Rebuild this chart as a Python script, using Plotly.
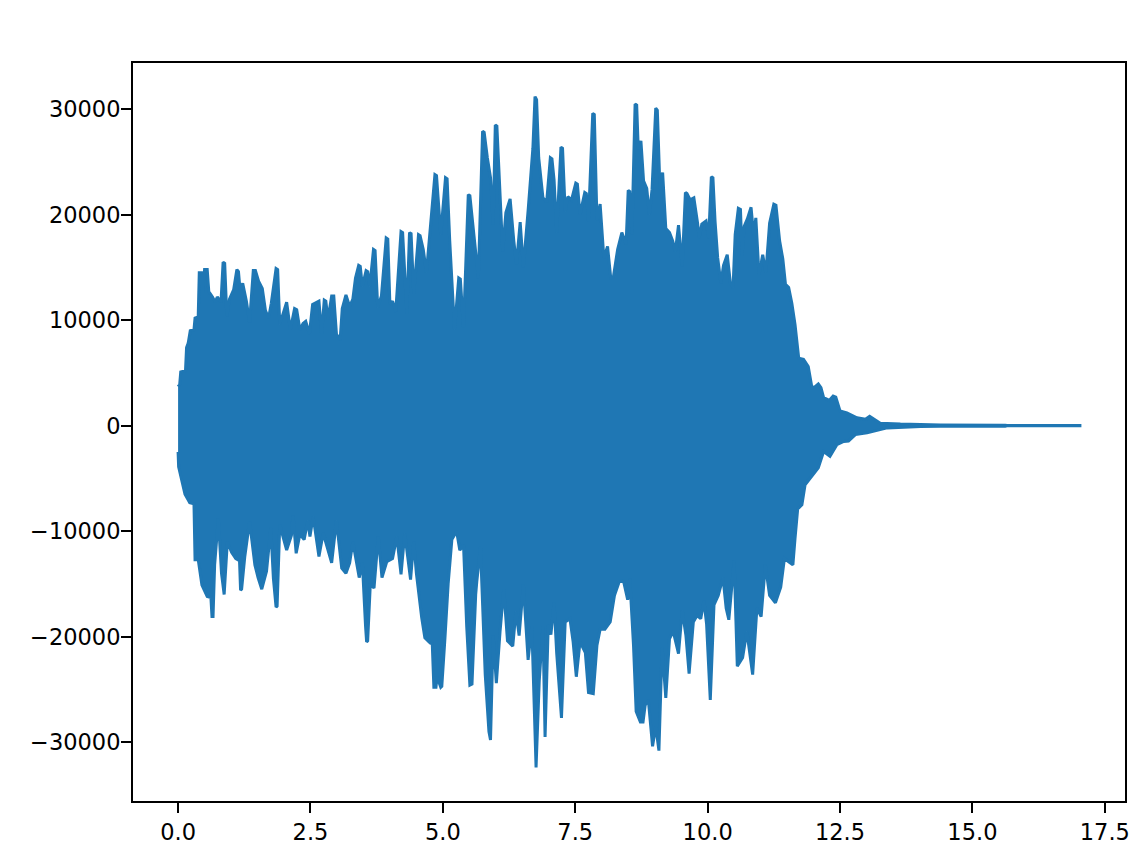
import plotly.graph_objects as go

# upper envelope of the waveform (seconds, amplitude)
upper_t = [0.00, 0.03, 0.05, 0.14, 0.16, 0.19, 0.23, 0.30, 0.32, 0.38, 0.40, 0.44, 0.46, 0.50, 0.55,
           0.58, 0.65, 0.70, 0.74, 0.81, 0.85, 0.88, 0.92, 0.97, 1.05, 1.11, 1.14, 1.17, 1.22, 1.29,
           1.35, 1.42, 1.46, 1.52, 1.59, 1.65, 1.71, 1.76, 1.85, 1.88, 1.92, 2.05, 2.12, 2.20, 2.24,
           2.30, 2.36, 2.41, 2.48, 2.54, 2.66, 2.71, 2.76, 2.79, 2.83, 2.90, 2.94, 2.99, 3.06, 3.10,
           3.17, 3.24, 3.30, 3.35, 3.41, 3.44, 3.48, 3.55, 3.58, 3.62, 3.69, 3.72, 3.77, 3.84, 3.93,
           3.96, 4.00, 4.05, 4.11, 4.21, 4.24, 4.28, 4.32, 4.37, 4.40, 4.45, 4.54, 4.57, 4.63, 4.69,
           4.72, 4.79, 4.85, 4.88, 4.96, 5.05, 5.08, 5.13, 5.17, 5.22, 5.30, 5.33, 5.39, 5.48, 5.51,
           5.58, 5.67, 5.75, 5.78, 5.84, 5.90, 5.95, 5.99, 6.02, 6.07, 6.13, 6.19, 6.27, 6.34, 6.39,
           6.46, 6.52, 6.61, 6.70, 6.74, 6.77, 6.81, 6.89, 6.96, 7.03, 7.06, 7.10, 7.15, 7.23, 7.26,
           7.31, 7.36, 7.43, 7.51, 7.54, 7.59, 7.68, 7.71, 7.75, 7.83, 7.86, 7.91, 7.97, 8.04, 8.11,
           8.17, 8.22, 8.30, 8.38, 8.46, 8.50, 8.53, 8.57, 8.63, 8.66, 8.69, 8.74, 8.79, 8.85, 8.90,
           8.95, 9.02, 9.05, 9.10, 9.15, 9.21, 9.28, 9.34, 9.39, 9.45, 9.52, 9.58, 9.61, 9.67, 9.74,
           9.81, 9.84, 9.89, 9.97, 10.02, 10.07, 10.10, 10.14, 10.19, 10.25, 10.30, 10.37, 10.43,
           10.48, 10.52, 10.58, 10.62, 10.65, 10.69, 10.75, 10.82, 10.87, 10.91, 10.97, 11.04, 11.10,
           11.17, 11.25, 11.29, 11.36, 11.42, 11.47, 11.53, 11.59, 11.65, 11.72, 11.81, 11.90, 11.97,
           12.03, 12.09, 12.14, 12.19, 12.30, 12.37, 12.42, 12.50, 12.63, 12.82, 12.98, 13.06, 13.26,
           13.64, 14.02, 14.40, 15.62, 15.65, 17.03]
upper_v = [3700, 3900, 5100, 5200, 7400, 7800, 9000, 9100, 10200, 10300, 14500, 14500, 12500, 14800, 14800,
           12700, 12200, 11700, 12200, 11700, 15500, 15400, 10400, 12000, 12900, 14800, 14600, 12900, 13500, 11800,
           9800, 14700, 14700, 13700, 13000, 10900, 10200, 11600, 14900, 14800, 9600, 11700, 9100, 11100, 11000,
           9100, 9700, 9900, 8700, 11500, 11800, 8700, 11900, 11800, 10100, 12300, 12300, 8700, 8100, 11100,
           12400, 11300, 12000, 14000, 15200, 15100, 13200, 14700, 14600, 13200, 16700, 16600, 11200, 12300, 17800,
           17700, 11500, 11800, 10800, 18400, 18300, 14500, 10600, 18300, 18200, 12500, 18100, 18000, 16700, 14500,
           16300, 20000, 23800, 23700, 18100, 23500, 23400, 17500, 13700, 9100, 14000, 13900, 9300, 21900, 21800,
           18400, 14000, 27900, 27800, 25400, 23500, 19100, 28500, 28400, 22500, 16500, 20200, 21500, 17500, 15300,
           19300, 15000, 20400, 26300, 31200, 30900, 25400, 21600, 21200, 25400, 25300, 23300, 18300, 26400, 26300,
           20300, 21700, 21400, 23000, 22900, 20000, 22100, 22000, 19400, 29600, 29500, 19500, 21000, 15900, 17000,
           14000, 14100, 16700, 18300, 17200, 22300, 22200, 18100, 30500, 30400, 26200, 27000, 23200, 22500, 20000,
           22400, 30100, 29900, 22400, 24000, 18700, 18300, 17500, 16500, 19000, 15100, 22100, 22000, 21400, 21600,
           19200, 17800, 19100, 19400, 17800, 23600, 23500, 19400, 15900, 13500, 15200, 16200, 13500,
           13100, 18100, 20600, 20500, 16100, 18900, 19600, 20700, 18000, 19700, 14300, 16200, 14500,
           19200, 21000, 20900, 17500, 15800, 13400, 13100, 11600, 9600, 6400, 6300, 5600, 3600,
           3700, 3950, 3600, 2650, 2400, 2800, 2700, 1400, 1200, 750, 600, 880, 240,
           150, 80, 60, 50, 12, 10]

# lower envelope of the waveform (seconds, amplitude)
lower_t = [0.00, 0.01, 0.06, 0.13, 0.22, 0.30, 0.32, 0.38, 0.45, 0.55, 0.62, 0.64, 0.66, 0.69, 0.76,
           0.82, 0.87, 0.93, 1.01, 1.09, 1.16, 1.18, 1.20, 1.26, 1.35, 1.45, 1.51, 1.58, 1.67, 1.75,
           1.80, 1.85, 1.87, 1.92, 2.05, 2.14, 2.17, 2.23, 2.30, 2.38, 2.45, 2.49, 2.55, 2.66, 2.74,
           2.90, 2.99, 3.09, 3.17, 3.24, 3.30, 3.42, 3.48, 3.54, 3.56, 3.58, 3.63, 3.70, 3.78, 3.85,
           3.94, 4.05, 4.13, 4.21, 4.28, 4.39, 4.45, 4.50, 4.60, 4.66, 4.76, 4.80, 4.83, 4.87, 4.89,
           4.96, 4.98, 5.04, 5.10, 5.17, 5.26, 5.32, 5.39, 5.45, 5.51, 5.55, 5.62, 5.64, 5.71, 5.80,
           5.87, 5.90, 5.95, 6.01, 6.08, 6.15, 6.22, 6.32, 6.38, 6.44, 6.52, 6.61, 6.68, 6.72, 6.76,
           6.82, 6.89, 6.93, 6.99, 7.04, 7.10, 7.15, 7.24, 7.31, 7.40, 7.46, 7.52, 7.59, 7.69, 7.75,
           7.84, 7.91, 7.97, 8.06, 8.16, 8.24, 8.33, 8.41, 8.49, 8.53, 8.60, 8.65, 8.73, 8.78, 8.82,
           8.88, 8.96, 9.02, 9.08, 9.14, 9.21, 9.28, 9.35, 9.45, 9.52, 9.59, 9.65, 9.73, 9.80, 9.87,
           9.93, 9.98, 10.05, 10.12, 10.20, 10.29, 10.35, 10.40, 10.50, 10.56, 10.66, 10.74, 10.85,
           10.93, 11.01, 11.09, 11.17, 11.28, 11.38, 11.45, 11.53, 11.61, 11.65, 11.70, 11.78, 11.84,
           11.97, 12.09, 12.19, 12.31, 12.44, 12.57, 12.66, 12.79, 13.01, 13.39, 14.02, 14.40, 15.62,
           15.65, 17.03]
lower_v = [-2500, -3900, -5100, -6500, -7300, -7400, -12700, -12700, -15100, -16200, -16300, -18100, -18100, -13200, -8800,
           -14000, -16000, -11000, -12000, -12600, -12800, -15600, -15500, -12400, -9100, -13200, -14400, -15500, -13800, -9700,
           -14500, -17200, -17100, -9400, -11800, -10400, -8500, -12100, -10300, -10800, -9000, -10500, -8600, -12400, -10200,
           -13000, -9000, -13500, -14000, -13000, -11000, -14400, -13000, -19000, -20500, -20400, -15000, -15400, -10500, -14400,
           -12900, -12600, -10500, -14100, -10200, -14600, -11000, -14000, -18200, -20100, -20600, -20700, -24800, -24800, -23800,
           -24800, -24700, -20100, -15000, -10800, -10000, -11800, -11300, -19000, -24600, -24500, -16000, -14800, -11500, -23600,
           -29000, -29800, -19900, -24400, -19500, -15500, -20400, -20900, -17600, -19900, -15100, -22200, -19000, -25500, -32400,
           -24200, -19000, -29500, -18900, -19800, -16800, -21600, -27700, -18600, -18300, -20500, -23800, -20500, -21500, -25300,
           -25400, -20800, -19300, -19300, -18600, -16100, -14800, -14700, -16500, -14500, -20800, -27100, -28100, -28100, -26500,
           -26000, -30400, -28500, -30800, -21000, -25800, -20200, -19500, -21600, -17500, -19900, -23500, -18600, -18000, -18300,
           -16600, -18800, -26000, -17000, -16100, -14400, -17300, -18400, -12800, -22800, -22000, -19500, -23600,
           -17300, -18100, -13200, -16100, -16800, -15300, -12600, -12900, -13200, -10700, -7900, -7500, -5600,
           -4800, -4000, -2450, -2900, -1800, -1500, -1450, -850, -680, -210, -70, -60, -50,
           -12, -10]

x_ticks = [0.0, 2.5, 5.0, 7.5, 10.0, 12.5, 15.0, 17.5]
x_labels = ["0.0", "2.5", "5.0", "7.5", "10.0", "12.5", "15.0", "17.5"]
y_ticks = [-30000, -20000, -10000, 0, 10000, 20000, 30000]
y_labels = ["\u221230000", "\u221220000", "\u221210000", "0", "10000", "20000", "30000"]

BLUE = "#1f77b4"


def padded(lo, hi, frac=0.05):
    pad = (hi - lo) * frac
    return [lo - pad, hi + pad]


# waveform drawn as the band between its upper and lower envelopes
wave_x = upper_t + lower_t[::-1]
wave_y = upper_v + lower_v[::-1]

fig = go.Figure()
fig.add_trace(go.Scatter(x=wave_x, y=wave_y, mode="lines", fill="toself",
                         fillcolor=BLUE, line=dict(color=BLUE, width=3),
                         hoverinfo="skip", showlegend=False))

axis = dict(showline=True, mirror=True, linecolor="black", linewidth=2,
            ticks="outside", ticklen=10, tickwidth=2, tickcolor="black",
            showgrid=False, zeroline=False,
            tickfont=dict(family="DejaVu Sans", size=22.5, color="black"))

fig.update_xaxes(range=padded(min(upper_t + lower_t), max(upper_t + lower_t)),
                 tickvals=x_ticks, ticktext=x_labels, **axis)
fig.update_yaxes(range=padded(min(lower_v), max(upper_v)),
                 tickvals=y_ticks, ticktext=y_labels, ticklabelstandoff=-4, **axis)

# the page body adds an 8 px offset, so the margins absorb it
fig.update_layout(width=1144, height=850,
                  margin=dict(l=125, r=27, t=55, b=57, autoexpand=False),
                  paper_bgcolor="white", plot_bgcolor="white")

fig.write_html("out.html")
